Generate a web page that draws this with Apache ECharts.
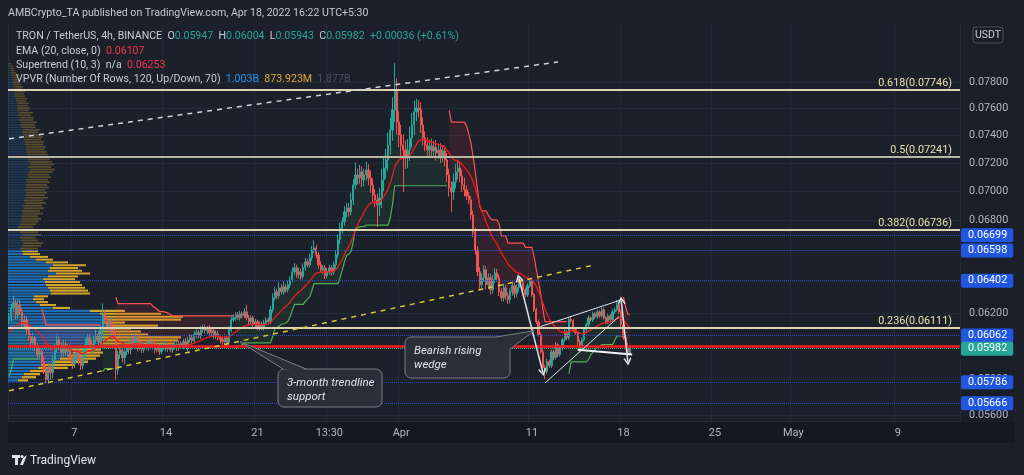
<!DOCTYPE html>
<html>
<head>
<meta charset="utf-8">
<script src="https://cdn.jsdelivr.net/npm/echarts@6/dist/echarts.min.js"></script>
<style>
  html, body { margin: 0; padding: 0; background: #1c202b; }
  #chart { width: 1024px; height: 475px; }
</style>
</head>
<body>
<div id="chart"></div>
<script>
// TRX/USDT 4h candles, Mar 2 - Apr 18 2022. prices in 1e-5 USDT
const firstOpen = 6150;
const closeE5 = [
  6169,6231,6262,6188,6250,6206,6127,6157,6096,6054,
  6018,6048,5994,5947,5964,5905,5858,5800,5870,5841,
  5917,5988,6036,6000,5959,6006,5964,5988,5929,5894,
  5929,5964,5917,5882,5941,6006,6048,6006,5976,6036,
  6066,6024,6096,6188,6157,6109,6145,6096,6066,5860,
  5947,5976,5929,5964,6006,5976,6036,6006,6048,5988,
  6012,5976,6006,5988,6024,5994,6012,5976,6000,5964,
  5994,6006,5982,6000,5976,5994,6006,5988,6012,6000,
  6024,6006,6036,6048,6030,6066,6078,6060,6096,6109,
  6090,6103,6078,6090,6060,6072,6048,6036,6024,6048,
  6018,6096,6157,6169,6188,6169,6194,6182,6206,6169,
  6145,6169,6127,6145,6109,6133,6109,6139,6157,6145,
  6219,6294,6332,6307,6357,6332,6363,6344,6376,6408,
  6459,6485,6440,6459,6427,6485,6524,6504,6550,6602,
  6615,6569,6504,6472,6485,6434,6459,6485,6459,6504,
  6569,6668,6745,6790,6857,6884,6857,6939,7044,7114,
  7093,7136,7079,7114,7150,7093,7044,6974,6939,6905,
  6953,7079,7164,7221,7330,7441,7591,7743,7500,7404,
  7330,7294,7236,7294,7382,7478,7576,7606,7591,7478,
  7382,7330,7294,7323,7287,7316,7272,7294,7250,7287,
  7221,7114,7023,6995,7065,7136,7164,7107,7044,7009,
  6967,6939,6836,6721,6602,6459,6376,6421,6472,6376,
  6421,6344,6408,6453,6421,6332,6294,6357,6307,6281,
  6332,6370,6319,6357,6408,6395,6344,6313,6370,6402,
  6313,6219,6145,6066,5964,5870,5846,5905,5882,5964,
  5929,6006,5947,5988,6036,6084,6048,6160,6150,6096,
  6078,6024,5988,6036,6096,6127,6169,6157,6194,6175,
  6206,6182,6219,6169,6145,6182,6157,6206,6219,6250,
  6206,6127,6048,6000,5947,5982
];
// wick lengths above / below the body, 1e-5 USDT
const upWickE5 = [
  30,25,45,20,35,30,18,28,22,25,
  20,30,18,25,22,15,28,20,25,22,
  28,24,35,18,22,30,20,25,18,22,
  28,20,25,22,30,35,25,20,28,22,
  30,22,25,70,25,22,28,20,18,25,
  22,28,20,25,22,26,18,24,20,22,
  16,20,14,18,16,20,12,18,16,14,
  18,16,12,20,14,16,18,14,20,16,
  18,22,16,20,18,24,20,16,22,18,
  20,16,22,18,14,20,16,18,14,20,
  12,20,18,22,16,18,20,14,22,44,
  18,16,14,18,12,16,14,18,16,14,
  24,28,30,20,35,22,35,20,26,22,
  28,30,20,26,22,28,25,20,28,26,
  50,20,18,22,20,18,25,20,18,22,
  30,35,40,30,38,32,35,50,40,90,
  45,50,40,45,60,40,50,45,40,45,
  70,80,75,80,90,90,95,210,90,80,
  75,80,70,80,85,90,85,70,60,60,
  55,50,55,45,55,45,50,45,50,45,
  40,50,45,45,60,55,60,50,45,50,
  30,28,25,30,28,25,30,28,30,25,
  28,25,30,30,25,22,22,28,22,20,
  22,25,20,22,25,20,16,14,16,18,
  14,12,12,14,12,12,14,16,12,14,
  12,16,10,14,12,15,10,16,14,10,
  12,10,12,14,15,12,16,10,14,12,
  15,10,16,14,10,12,10,15,14,31,
  12,15,10,14,16,22
];
const downWickE5 = [
  20,25,18,28,22,20,25,22,30,25,
  28,22,25,30,22,28,25,20,22,40,
  35,25,28,22,30,25,22,28,25,32,
  25,22,30,25,22,20,25,28,22,25,
  22,28,20,25,22,30,25,22,28,60,
  30,25,28,40,22,25,28,20,25,22,
  16,20,18,14,20,16,18,22,16,20,
  14,18,16,20,14,18,16,20,18,16,
  20,16,40,18,20,16,22,18,20,16,
  18,20,16,22,18,20,16,24,22,20,
  20,14,16,12,18,14,16,18,14,16,
  18,14,16,20,16,18,14,16,12,16,
  14,18,16,22,18,16,20,18,16,20,
  16,20,18,24,22,16,20,18,16,20,
  20,22,25,20,28,22,18,20,25,18,
  25,22,30,35,28,38,32,25,35,30,
  45,40,50,45,40,50,55,45,50,150,
  75,70,80,75,80,70,80,90,95,90,
  85,300,80,75,80,70,75,70,55,60,
  55,45,50,55,45,50,55,45,50,45,
  45,50,60,140,55,45,55,45,50,45,
  28,30,32,35,30,28,35,28,25,28,
  28,30,25,22,28,28,22,25,28,25,
  22,25,28,22,25,22,16,16,14,14,
  12,14,14,12,12,14,41,14,12,14,
  14,12,15,12,16,12,14,12,10,14,
  12,30,29,12,10,12,12,10,14,12,
  10,12,12,10,14,12,10,12,12,10,
  12,14,15,12,10,4
];

const emaSeedE5 = 6070;
const stSeedAtrE5 = 120, stSeedUpE5 = 5820, stSeedDnE5 = 6400;

// VPVR rows, bottom to top (width units = px of pane)
const vpLow = 0.05785, vpStep = 0.0001808, vpValueAreaTop = 44;
const vpUp = [
  10,14,16,22,30,34,45,52,60,65, 62,80,92,95,92,95,94,95,98,95,
  98,96,92,82,45,32,28,25,26,43, 42,40,38,37,35,40,48,40,42,45,
  38,28,22,15,14,12,14,15,13,12, 14,12,11,10,12,13,14,13,15,14,
  16,15,17,16,18,17,18,17,19,18, 19,18,20,19,21,22,20,22,21,20,
  21,19,19,18,18,17,17,16,17,15, 14,15,13,12,13,11,12,10,11,9,
  10,9,9,8,8,7,7,7,6,6, 5,5,5,4,4,3,3,2,2,1
];
const vpDown = [
  10,14,16,18,30,33,35,36,32,30, 31,40,75,75,81,45,39,28,52,22,
  75,79,61,35,17,16,12,11,14,39, 38,37,36,35,32,30,34,34,28,33,
  22,17,18,17,16,18,19,20,17,16, 19,18,16,15,16,17,19,17,20,18,
  20,19,21,19,22,20,21,20,22,21, 23,22,23,22,24,25,23,24,23,22,
  23,21,20,19,20,18,19,17,18,17, 16,17,15,15,16,14,14,13,14,12,
  12,11,12,10,11,10,9,10,9,9, 8,7,7,6,7,5,4,4,3,2
];

// axis ticks
const slotCount = 437;
const timeTickIdx = [30, 72, 114, 147, 180, 240, 282, 324, 360, 408];
const timeTickText = ['7', '14', '21', '13:30', 'Apr', '11', '18', '25', 'May', '9'];
const priceTicks = [0.056, 0.058, 0.060, 0.062, 0.064, 0.066, 0.068, 0.070, 0.072, 0.074, 0.076, 0.078];

// drawings
const fibLevels = [0.07746, 0.07241, 0.06736, 0.06111];
const fibNames = ['0.618', '0.5', '0.382', '0.236'];
const blueLevels = [0.06699, 0.06598, 0.06402, 0.06062, 0.05786, 0.05666];
const redLevel = 0.05995;
const lastPrice = 0.05982;
const whiteTrend = [[0, 0.07375], [252, 0.07963]];
const yellowTrend = [[0, 0.05736], [269, 0.06504]];
const wedgeUpper = [[244, 0.06116], [280.5, 0.06281]];
const wedgeLower = [[246, 0.05781], [279.7, 0.06177]];
const wedgeBase = [[261.3, 0.05976], [285.8, 0.05947]];
const arrowA = [[234.3, 0.06419], [245, 0.05844]];
const arrowB = [[280.5, 0.06277], [283.8, 0.05906]];
const callouts = [
  { lines: ['Bearish rising', 'wedge'], box: [405, 337, 105, 41], tip: [240.5, 0.0609], base: [[496, 337], [510, 349]] },
  { lines: ['3-month trendline', 'support'], box: [278, 369, 104, 38], tip: [106, 0.06024], base: [[283, 369], [306, 369]] }
];

// ---- build candles & indicators
const n = closeE5.length;
const openE5 = [firstOpen].concat(closeE5.slice(0, n - 1));
const highE5 = closeE5.map((c, i) => Math.max(openE5[i], c) + upWickE5[i]);
const lowE5 = closeE5.map((c, i) => Math.min(openE5[i], c) - downWickE5[i]);
const candles = closeE5.map((c, i) => [openE5[i] / 1e5, c / 1e5, lowE5[i] / 1e5, highE5[i] / 1e5]);

// EMA(20, close)
let e = emaSeedE5;
const ema = closeE5.map(c => { e = e + (2 / 21) * (c - e); return e / 1e5; });

// Supertrend(10, 3)
let atr = stSeedAtrE5, upPrev = stSeedUpE5, dnPrev = stSeedDnE5, trend = 1, prevC = firstOpen;
const stUp = [], stDn = [], gBase = [], gDiff = [], rBase = [], rDiff = [];
for (let i = 0; i < n; i++) {
  const h = highE5[i], l = lowE5[i], c = closeE5[i];
  const tr = Math.max(h - l, Math.abs(h - prevC), Math.abs(l - prevC));
  atr = (atr * 9 + tr) / 10;
  const hl2 = (h + l) / 2;
  let up = hl2 - 3 * atr, dn = hl2 + 3 * atr;
  if (prevC > upPrev) up = Math.max(up, upPrev);
  if (prevC < dnPrev) dn = Math.min(dn, dnPrev);
  if (trend === -1 && c > dnPrev) trend = 1;
  else if (trend === 1 && c < upPrev) trend = -1;
  const mid = (openE5[i] + c) / 2;
  const line = trend === 1 ? up : dn;
  const lo = Math.min(mid, line), hi = Math.max(mid, line);
  stUp.push(trend === 1 ? up / 1e5 : null);
  stDn.push(trend === -1 ? dn / 1e5 : null);
  gBase.push(trend === 1 ? lo / 1e5 : null);
  gDiff.push(trend === 1 ? (hi - lo) / 1e5 : null);
  rBase.push(trend === -1 ? lo / 1e5 : null);
  rDiff.push(trend === -1 ? (hi - lo) / 1e5 : null);
  upPrev = up; dnPrev = dn; prevC = c;
}

const vpData = vpUp.map((u, k) => [k, u, vpDown[k], vpLow + (k + 0.5) * vpStep]);

const cats = [];
for (let i = 0; i < slotCount; i++) cats.push(i);

const FONT = 'Roboto, "Noto Sans", sans-serif';
const chevron = 'path://M5,0L10,7L8.6,8L5,3L1.4,8L0,7Z';

function seg(pts, style, sym0, sym1) {
  return [
    { coord: pts[0], symbol: sym0 || 'none', symbolSize: 8, lineStyle: style },
    { coord: pts[1], symbol: sym1 || 'none', symbolSize: 8 }
  ];
}

const markData = [];
fibLevels.forEach((v, k) => markData.push({
  yAxis: v,
  lineStyle: { color: k === 1 ? '#b9b6a6' : '#d9d3b4', width: 2, type: 'solid' },
  label: { show: true, position: 'insideEndTop', distance: [8, 1], color: '#e9e0a8', fontSize: 10.8, fontFamily: FONT,
    formatter: fibNames[k] + '(' + v.toFixed(5) + ')' }
}));
blueLevels.forEach(v => markData.push({
  yAxis: v,
  lineStyle: { color: '#2649c4', width: 1, type: 'dotted' },
  label: { show: true, position: 'end', distance: 1, color: '#ffffff', backgroundColor: '#2157e0', padding: [2, 6, 1, 7],
    borderRadius: 2, fontSize: 10.8, fontFamily: FONT, formatter: v.toFixed(5) }
}));
markData.push({ yAxis: redLevel, lineStyle: { color: '#f21b1b', width: 2.5, type: 'solid' }, label: { show: false } });
markData.push({
  yAxis: lastPrice, lineStyle: { color: '#26a69a', width: 1, type: 'dotted' },
  label: { show: true, position: 'end', distance: 1, color: '#ffffff', backgroundColor: '#26a69a', padding: [2, 6, 1, 7],
    borderRadius: 2, fontSize: 10.8, fontFamily: FONT, formatter: lastPrice.toFixed(5) }
});
markData.push(seg(whiteTrend, { color: '#d1d4dc', width: 1.5, type: [5, 5] }));
markData.push(seg(yellowTrend, { color: '#d7c53a', width: 1.5, type: [5, 5] }));
markData.push(seg(wedgeUpper, { color: '#e0e3eb', width: 1, type: 'solid' }));
markData.push(seg(wedgeLower, { color: '#e0e3eb', width: 1, type: 'solid' }));
markData.push(seg(wedgeBase, { color: '#f0f3fa', width: 2, type: 'solid' }));
markData.push(seg(arrowA, { color: '#e0e3eb', width: 1.5, type: 'solid' }, chevron, chevron));
markData.push(seg(arrowB, { color: '#e0e3eb', width: 1.5, type: 'solid' }, chevron, chevron));

const chart = echarts.init(document.getElementById('chart'));
chart.setOption({
  backgroundColor: '#1c202b',
  animation: false,
  grid: { left: 8, right: 64, top: 24, bottom: 54, show: true, backgroundColor: '#1c202b', borderWidth: 0 },
  xAxis: [{
    type: 'category', data: cats, boundaryGap: true,
    axisLine: { show: true, lineStyle: { color: '#2a2e39' } },
    axisTick: { show: false },
    axisLabel: {
      interval: (i) => timeTickIdx.indexOf(i) >= 0,
      formatter: (v, i) => timeTickText[timeTickIdx.indexOf(i)],
      color: '#b2b5be', fontSize: 11, fontFamily: FONT, margin: 7
    },
    splitLine: { show: true, interval: (i) => timeTickIdx.indexOf(i + 1) >= 0, lineStyle: { color: '#252935' } }
  }, {
    type: 'value', min: 0, max: 952, show: false
  }],
  yAxis: {
    type: 'log', logBase: 10, min: 0.05566, max: 0.0827, position: 'right',
    axisLine: { show: true, lineStyle: { color: '#2a2e39' } },
    axisTick: { show: false, customValues: priceTicks },
    axisLabel: { customValues: priceTicks, formatter: (v) => v.toFixed(5), color: '#b2b5be', fontSize: 10.8, fontFamily: FONT, margin: 9 },
    splitLine: { show: true, lineStyle: { color: '#252935' } }
  },
  series: [
    {
      type: 'custom', name: 'VPVR', xAxisIndex: 1, yAxisIndex: 0, z: 1, clip: true, silent: true,
      encode: { x: 1, y: 3 },
      data: vpData,
      renderItem: (params, api) => {
        const k = api.value(0), up = api.value(1), dn = api.value(2);
        const p0 = vpLow + k * vpStep, p1 = p0 + vpStep;
        const a = api.coord([0, p1]);
        const b = api.coord([up, p0]);
        const c = api.coord([up + dn, p0]);
        const h = Math.max(0.6, b[1] - a[1] - 0.8);
        const va = k <= vpValueAreaTop;
        return { type: 'group', children: [
          { type: 'rect', shape: { x: a[0], y: a[1], width: b[0] - a[0], height: h }, style: { fill: va ? '#1f6eb3' : 'rgba(33,120,200,0.28)' } },
          { type: 'rect', shape: { x: b[0], y: a[1], width: c[0] - b[0], height: h }, style: { fill: va ? '#d5a52b' : 'rgba(220,170,50,0.32)' } }
        ] };
      }
    },
    { type: 'line', name: 'gBase', data: gBase, stack: 'g', symbol: 'none', lineStyle: { opacity: 0 }, z: 2, silent: true },
    { type: 'line', name: 'gDiff', data: gDiff, stack: 'g', symbol: 'none', lineStyle: { opacity: 0 }, areaStyle: { color: 'rgba(76,175,80,0.13)' }, z: 2, silent: true },
    { type: 'line', name: 'rBase', data: rBase, stack: 'r', symbol: 'none', lineStyle: { opacity: 0 }, z: 2, silent: true },
    { type: 'line', name: 'rDiff', data: rDiff, stack: 'r', symbol: 'none', lineStyle: { opacity: 0 }, areaStyle: { color: 'rgba(242,54,69,0.17)' }, z: 2, silent: true },
    {
      type: 'candlestick', name: 'TRXUSDT', data: candles, z: 3, barWidth: 1.7,
      itemStyle: { color: '#26a69a', color0: '#ef5350', borderColor: '#26a69a', borderColor0: '#ef5350', borderWidth: 1 },
      markLine: { silent: true, symbol: 'none', precision: 6, animation: false, data: markData }
    },
    { type: 'line', name: 'ST up', data: stUp, symbol: 'none', z: 4, lineStyle: { color: '#4caf50', width: 1.2 } },
    { type: 'line', name: 'ST down', data: stDn, symbol: 'none', z: 4, lineStyle: { color: '#ff5252', width: 1.2 } },
    { type: 'line', name: 'EMA', data: ema, symbol: 'none', z: 4, lineStyle: { color: '#f01c1c', width: 1.3 } }
  ]
});

// ---- texts, panels, callouts
const g = [];
g.push({ type: 'rect', z: -1, silent: true, shape: { x: 8, y: 422, width: 1007, height: 21 }, style: { fill: '#141823' } });
g.push({ type: 'rect', z: -1, silent: true, shape: { x: 960, y: 24, width: 55, height: 398 }, style: { fill: '#1a1e29' } });
const LF = '10.6px ' + FONT;
g.push({ type: 'text', x: 8, y: 13, style: { text: 'AMBCrypto_TA published on TradingView.com, Apr 18, 2022 16:22 UTC+5:30',
  fill: '#c5c8d0', font: LF, verticalAlign: 'middle' } });
const legendLines = [
  { y: 36, text: '{t|TRON / TetherUS, 4h, BINANCE}  {t|O}{v|0.05947}  {t|H}{v|0.06004}  {t|L}{v|0.05943}  {t|C}{v|0.05982}  {v|+0.00036 (+0.61%)}' },
  { y: 51, text: '{t|EMA (20, close, 0)}  {r|0.06107}' },
  { y: 65, text: '{t|Supertrend (10, 3)  n/a}  {r|0.06253}' },
  { y: 79, text: '{t|VPVR (Number Of Rows, 120, Up/Down, 70)}  {b|1.003B}  {y|873.923M}  {d|1.877B}' }
];
const rich = {
  t: { fill: '#c9ccd4', font: LF },
  v: { fill: '#26a69a', font: LF },
  r: { fill: '#f23645', font: LF },
  b: { fill: '#2196f3', font: LF },
  y: { fill: '#e0a82e', font: LF },
  d: { fill: '#4a4e59', font: LF }
};
legendLines.forEach(l => g.push({ type: 'text', x: 16, y: l.y, z: 10, style: { text: l.text, rich: rich, font: LF, verticalAlign: 'middle' } }));
g.push({ type: 'rect', z: 10, shape: { x: 973, y: 27, width: 30, height: 16, r: 3 }, style: { fill: '#1a1e29', stroke: '#4a4e59', lineWidth: 1 } });
g.push({ type: 'text', z: 11, x: 988, y: 35, style: { text: 'USDT', fill: '#c9ccd4', font: '10.5px ' + FONT, align: 'center', verticalAlign: 'middle' } });
// TradingView logo
g.push({ type: 'rect', z: 10, shape: { x: 12, y: 455, width: 8, height: 3 }, style: { fill: '#e0e3eb' } });
g.push({ type: 'rect', z: 10, shape: { x: 15, y: 455, width: 3, height: 10 }, style: { fill: '#e0e3eb' } });
g.push({ type: 'circle', z: 10, shape: { cx: 22, cy: 456.5, r: 1.6 }, style: { fill: '#e0e3eb' } });
g.push({ type: 'polygon', z: 10, shape: { points: [[23, 458], [27, 455], [23, 465], [20, 465]] }, style: { fill: '#e0e3eb' } });
g.push({ type: 'text', z: 10, x: 30, y: 461, style: { text: 'TradingView', fill: '#e0e3eb', font: '12px ' + FONT, verticalAlign: 'middle' } });

callouts.forEach(c => {
  const tip = chart.convertToPixel({ gridIndex: 0 }, c.tip);
  const [x, y, w, h] = c.box;
  g.push({ type: 'rect', z: 20, shape: { x: x, y: y, width: w, height: h, r: 6 }, style: { fill: '#2a2e39', stroke: '#7a7d86', lineWidth: 1 } });
  g.push({ type: 'polygon', z: 21, shape: { points: [c.base[0], tip, c.base[1], [c.base[1][0] - 6, c.base[1][1] + 2]] }, style: { fill: '#2a2e39' } });
  g.push({ type: 'polyline', z: 22, shape: { points: [c.base[0], tip, c.base[1]] }, style: { stroke: '#7a7d86', lineWidth: 1, fill: null } });
  c.lines.forEach((t, k) => g.push({ type: 'text', z: 23, x: x + 9, y: y + 14 + k * 14,
    style: { text: t, fill: '#e0e3eb', font: 'italic 11.5px ' + FONT, verticalAlign: 'middle' } }));
});
chart.setOption({ graphic: g });
</script>
</body>
</html>
